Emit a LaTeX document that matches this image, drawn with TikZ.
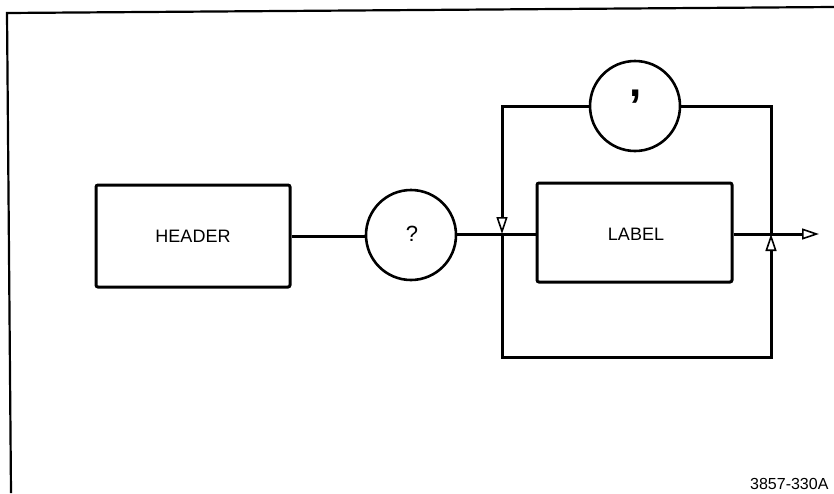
\documentclass[tikz,border=0pt]{standalone}
\usepackage{fontspec}
\setmainfont{Liberation Sans}
\usetikzlibrary{arrows.meta,calc}
\begin{document}
\begin{tikzpicture}[x=1pt,y=-1pt,
  wire/.style={line width=3pt,line cap=butt},
  tip/.style={-{Triangle[open,length=17pt,width=11pt,line width=1.6pt]}},
  boxnode/.style={draw,line width=3pt,rounded corners=2pt,inner sep=0pt},
  ringnode/.style={draw,circle,line width=2.6pt,minimum size=90pt,inner sep=0pt},
  lbl/.style={font=\fontsize{18}{20}\selectfont}]
\useasboundingbox (0,0) rectangle (834,493);
% frame (top and left edges)
\draw[line width=2.2pt] (11,493) -- (7,13) -- (834,7);
% nodes
\node[boxnode,minimum width=194pt,minimum height=102pt] (header) at (193,236) {};
\node[lbl] (headertext) at (193,236) {HEADER};
\node[ringnode] (q) at (411,235) {};
\node[font=\fontsize{22}{24}\selectfont] (qtext) at (412,234) {?};
\node[boxnode,minimum width=195pt,minimum height=99pt] (label) at (634.5,232.5) {};
\node[lbl] (labeltext) at (636,234) {LABEL};
\node[ringnode] (comma) at (635,106) {};
\node[font=\bfseries\fontsize{44}{44}\selectfont] (commatext) at (635.5,97) {,};
% junctions
\coordinate (j1) at (502,234);
\coordinate (j2) at (771,234);
\coordinate (out) at (819,234);
\coordinate (bl) at (502,357);
% connectors
\draw[wire] (header.east |- 0,236) -- (q.west |- 0,236);
\draw[wire] (q.east |- 0,234) -- (j1) -- (label.west |- j1);
\draw[wire,tip] (label.east |- j2) -- (out);
\draw[wire] (j2) |- (comma.east);
\draw[wire,tip] (comma.west) -| (j1);
\draw[wire,tip] (j1) -- (bl) -| (j2);
\node[anchor=base east,font=\fontsize{16}{18}\selectfont] (code) at (832,489) {3857-330A};
\end{tikzpicture}
\end{document}
